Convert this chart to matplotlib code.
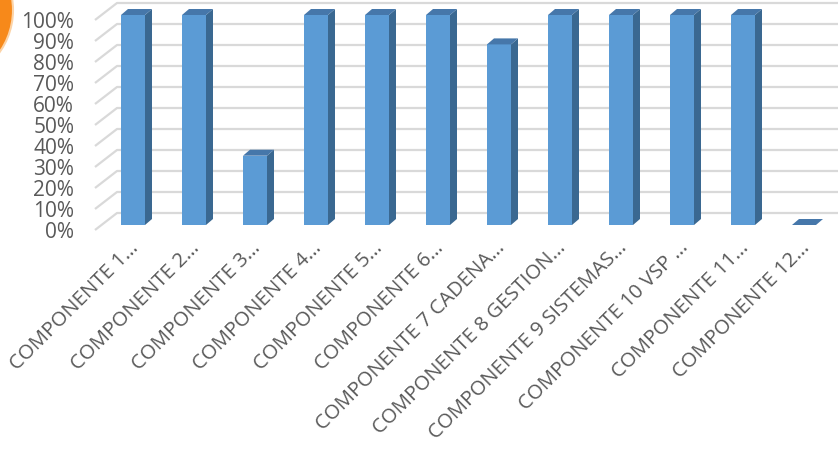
import numpy as np
import matplotlib
matplotlib.use("Agg")
import matplotlib.pyplot as plt
from matplotlib.patches import Polygon, Circle

categories = ["COMPONENTE 1…", "COMPONENTE 2…", "COMPONENTE 3…", "COMPONENTE 4…",
              "COMPONENTE 5…", "COMPONENTE 6…", "COMPONENTE 7 CADENA…",
              "COMPONENTE 8 GESTION…", "COMPONENTE 9 SISTEMAS…", "COMPONENTE 10 VSP …",
              "COMPONENTE 11…", "COMPONENTE 12…"]
values = [1.0, 1.0, 0.33, 1.0, 1.0, 1.0, 0.86, 1.0, 1.0, 1.0, 1.0, 0.0]
ticks = [0, .1, .2, .3, .4, .5, .6, .7, .8, .9, 1.0]
tick_labels = ["0%", "10%", "20%", "30%", "40%", "50%", "60%", "70%", "80%", "90%", "100%"]

plt.rcParams['font.family'] = ['Open Sans', 'DejaVu Sans']
W, H = 838, 450
fig = plt.figure(figsize=(W / 100, H / 100), dpi=100)

# axes: left edge at 95px, bottom at 230px (from top)
ax = fig.add_axes([95 / W, (H - 230) / H, (W - 95) / W, 230 / H])
px_x = 1 / 61.0    # category units per pixel
px_y = 1 / 210.0   # value units per pixel
x0 = -(133 - 95) * px_x
ax.set_xlim(x0, x0 + (W - 95) * px_x)
ax.set_ylim(-5 * px_y, 225 * px_y)
for s in ax.spines.values():
    s.set_visible(False)

# background orange decoration (top-left), in inches
fig.patches.append(Circle((-0.60, 4.40), 0.73, transform=fig.dpi_scale_trans,
                          facecolor='#F7891A', edgecolor='#FCD3A6', lw=1.5))

# back-wall gridlines with side diagonals
grid_c = '#D9D9D9'
xw = x0 + 22 * px_x
for v in ticks:
    ax.plot([x0, xw, ax.get_xlim()[1]], [v - 5 * px_y, v + 12 * px_y, v + 12 * px_y],
            color=grid_c, lw=1.6, zorder=1, clip_on=False, solid_capstyle='butt')

# 3D-style bars
x = np.arange(len(values))
bw = 24 * px_x
dx, dy = 7 * px_x, 6 * px_y
front_c, side_c, top_c = '#5B9BD5', '#3A6891', '#4677AA'
vals = np.array(values)
ax.bar(x[vals > 0], vals[vals > 0], width=bw, color=front_c, zorder=3)
for xi, v in zip(x, values):
    l, r = xi - bw / 2, xi + bw / 2
    if v > 0:
        ax.add_patch(Polygon([(r, 0), (r + dx, dy), (r + dx, v + dy), (r, v)],
                             closed=True, facecolor=side_c, edgecolor='none', zorder=3))
    ax.add_patch(Polygon([(l, v), (r, v), (r + dx, v + dy), (l + dx, v + dy)],
                         closed=True, facecolor=top_c, edgecolor='none', zorder=3))

# y labels
ax.set_yticks(np.array(ticks) - 5 * px_y, tick_labels)
ax.tick_params(axis='y', length=0, pad=15, labelsize=15, labelcolor='#595959')

# x labels
ax.set_xticks([])
for xi, lab in zip(x, categories):
    ax.text(xi + 3 * px_x, -20 * px_y, lab, rotation=45, ha='right', va='center',
            rotation_mode='anchor', fontsize=14.7, color='#595959')

fig.savefig("out.png", dpi=100)
